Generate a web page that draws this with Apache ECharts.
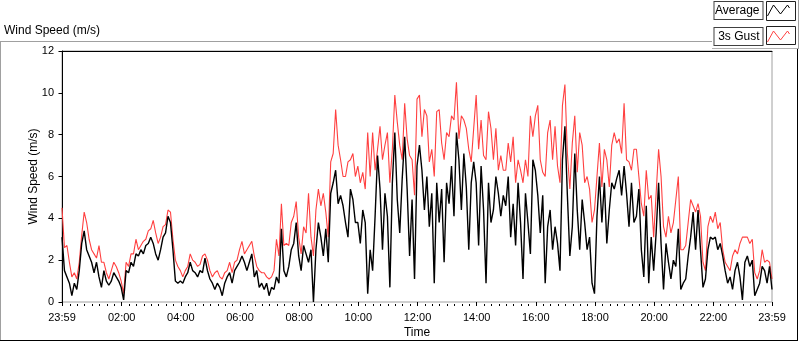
<!DOCTYPE html>
<html>
<head>
<meta charset="utf-8">
<script src="https://cdn.jsdelivr.net/npm/echarts@6.0.0/dist/echarts.min.js"></script>
<style>
  html, body { margin: 0; padding: 0; background: #fff; }
  #chart { width: 800px; height: 342px; }
</style>
</head>
<body>
<div id="chart"></div>
<script>
// Wind speed over one day, sampled every 5 minutes from 23:59 to 23:59
const startMinute = -1;   // 23:59 of the previous day
const sampleStep = 5;     // minutes between samples

// "Average" wind speed (m/s), one row per hour
const avgSpeed = [
    3.1, 1.5, 1.2, 0.9, 0.3, 0.9, 0.6, 1.5, 2.8, 3.4, 2.5, 2.2,
    1.9, 1.4, 1.9, 1.2, 0.7, 1.5, 1.0, 0.8, 1.0, 1.4, 1.2, 1.0,
    0.7, 0.1, 1.5, 1.4, 1.9, 1.7, 2.3, 2.2, 2.5, 2.3, 2.7, 2.8,
    3.1, 2.8, 2.3, 2.0, 2.5, 3.1, 3.3, 4.1, 3.8, 2.5, 1.0, 0.9,
    1.0, 0.9, 1.2, 1.4, 1.9, 1.5, 1.4, 1.2, 1.5, 1.4, 2.1, 1.5,
    1.1, 0.9, 0.6, 0.9, 0.7, 0.3, 0.9, 1.2, 1.4, 0.9, 1.5, 1.7,
    1.9, 2.2, 1.9, 1.5, 1.9, 2.3, 1.2, 1.5, 0.7, 0.9, 0.6, 0.9,
    0.3, 0.7, 0.6, 1.2, 0.9, 3.5, 1.5, 1.2, 1.7, 2.5, 2.8, 3.8,
    2.2, 1.5, 2.7, 2.3, 1.9, 2.5, 0.0, 2.5, 3.8, 3.1, 2.2, 3.5,
    1.9, 5.2, 5.7, 6.3, 4.7, 5.1, 4.6, 3.8, 3.1, 5.4, 4.9, 3.8,
    3.8, 2.8, 4.4, 3.8, 0.4, 2.5, 1.5, 4.1, 7.0, 5.4, 2.5, 5.2,
    4.1, 0.7, 5.7, 8.1, 4.9, 3.3, 5.9, 7.9, 5.4, 2.2, 4.9, 1.1,
    6.5, 7.5, 6.3, 4.4, 6.0, 3.6, 5.2, 0.9, 5.7, 3.8, 5.4, 1.9,
    5.7, 4.7, 6.5, 4.1, 8.1, 6.8, 4.4, 7.1, 5.5, 2.5, 5.7, 6.7,
    5.7, 2.7, 6.5, 4.4, 0.9, 5.7, 3.8, 4.4, 6.0, 5.2, 4.1, 5.1,
    4.6, 6.0, 3.1, 4.7, 2.7, 5.7, 3.8, 1.1, 5.2, 3.8, 2.3, 6.8,
    6.3, 5.1, 3.3, 5.1, 0.9, 3.6, 4.4, 2.5, 3.6, 2.8, 1.5, 6.8,
    8.4, 5.1, 2.2, 3.6, 7.1, 4.4, 2.5, 4.9, 3.8, 2.5, 3.1, 0.9,
    0.4, 4.1, 6.0, 3.8, 5.7, 2.8, 4.4, 5.7, 5.4, 5.9, 6.3, 5.1,
    6.5, 5.2, 3.6, 5.7, 3.8, 4.1, 5.4, 2.5, 1.2, 4.6, 0.9, 3.1,
    1.5, 3.3, 5.7, 2.8, 0.6, 2.8, 1.9, 1.1, 2.0, 1.7, 3.5, 0.6,
    0.9, 1.1, 2.2, 3.1, 4.3, 2.5, 4.4, 2.5, 0.7, 1.1, 2.5, 3.1,
    3.0, 3.1, 2.5, 2.8, 2.2, 1.5, 0.9, 1.2, 0.6, 1.5, 1.9, 1.2,
    0.1, 1.9, 2.2, 1.7, 2.0, 0.3, 0.6, 0.9, 1.7, 1.5, 0.9, 1.7,
    0.6
];

// "3s Gust" wind speed (m/s)
const gustSpeed = [
    4.5, 2.6, 2.7, 1.9, 1.2, 1.4, 1.1, 1.9, 3.2, 4.3, 3.8, 3.0,
    2.5, 2.3, 2.1, 2.7, 1.9, 1.9, 1.4, 1.1, 1.5, 1.9, 1.7, 1.4,
    1.0, 0.4, 1.9, 1.7, 2.3, 2.3, 3.0, 2.5, 2.7, 2.9, 3.0, 3.4,
    3.5, 3.9, 3.3, 2.8, 3.1, 3.6, 3.7, 4.4, 4.3, 3.0, 2.0, 1.7,
    1.5, 1.2, 1.5, 1.7, 2.3, 2.0, 1.9, 1.7, 1.8, 2.2, 2.3, 2.0,
    1.5, 1.2, 1.4, 1.5, 1.2, 1.1, 1.4, 1.5, 1.9, 1.4, 1.9, 2.0,
    2.5, 2.9, 2.3, 2.5, 2.7, 2.9, 2.2, 1.7, 1.5, 1.4, 1.4, 1.2,
    1.1, 1.2, 1.5, 3.0, 2.2, 4.7, 2.7, 2.8, 2.7, 3.8, 4.1, 4.8,
    3.1, 2.3, 3.6, 3.3, 5.2, 3.1, 2.2, 4.4, 5.4, 4.6, 5.2, 4.3,
    3.1, 6.7, 7.1, 9.2, 7.5, 6.8, 6.0, 6.0, 6.7, 6.8, 7.1, 6.0,
    6.5, 5.7, 6.2, 5.4, 8.1, 6.0, 8.1, 6.3, 7.3, 8.4, 6.8, 7.5,
    8.1, 5.7, 7.3, 9.9, 8.6, 7.5, 6.8, 9.5, 7.8, 7.0, 6.8, 5.1,
    9.7, 9.9, 7.9, 9.2, 8.9, 6.7, 7.3, 6.0, 9.1, 9.2, 7.6, 6.8,
    8.1, 7.9, 8.9, 8.7, 10.5, 7.8, 8.9, 8.7, 8.3, 7.3, 6.7, 8.3,
    9.9, 7.3, 8.7, 7.0, 6.8, 9.1, 8.3, 6.8, 8.3, 6.3, 7.0, 6.3,
    6.3, 7.6, 6.7, 7.9, 5.7, 6.8, 6.3, 5.7, 6.8, 6.0, 8.9, 7.9,
    8.9, 9.4, 6.8, 6.2, 6.0, 8.1, 8.7, 6.8, 8.4, 6.5, 5.7, 9.4,
    10.4, 7.1, 5.4, 7.6, 8.9, 6.2, 8.1, 7.5, 5.7, 6.0, 5.4, 3.8,
    4.4, 6.0, 7.6, 5.5, 7.3, 6.8, 5.5, 7.5, 8.1, 7.6, 7.8, 7.1,
    9.5, 6.8, 6.7, 6.3, 7.3, 7.3, 6.0, 4.7, 4.1, 6.3, 4.9, 5.1,
    3.1, 5.2, 7.3, 6.0, 3.6, 3.1, 4.1, 3.3, 3.8, 4.9, 6.0, 2.5,
    2.5, 2.7, 3.8, 4.9, 4.6, 4.3, 4.7, 4.1, 1.9, 1.5, 3.6, 4.1,
    3.8, 4.3, 3.5, 3.8, 2.5, 1.9, 1.7, 1.5, 2.2, 2.5, 2.3, 2.8,
    3.1, 3.1, 3.1, 2.8, 3.0, 1.4, 1.1, 1.5, 2.5, 1.9, 2.0, 1.9,
    1.1
];

// x axis tick labels (minutes since midnight)
const labelMinutes = [-1, 120, 240, 360, 480, 600, 720, 840, 960, 1080, 1200, 1320, 1439];
const timeLabels = ['23:59', '02:00', '04:00', '06:00', '08:00', '10:00', '12:00',
    '14:00', '16:00', '18:00', '20:00', '22:00', '23:59'];

const FONT = 'Liberation Sans, Arial, sans-serif';

document.addEventListener('DOMContentLoaded', function() {
    const chart = echarts.init(document.getElementById('chart'), null, { renderer: 'canvas' });

    const toPoints = arr => arr.map((v, i) => [startMinute + i * sampleStep, v]);

    // minor ticks every 15 minutes, skipping the labelled ones
    const minorTicks = [];
    for (let m = 15; m < 1440; m += 15) {
        if (m % 120 !== 0) minorTicks.push(m);
    }

    const option = {
        animation: false,
        title: {
            text: 'Wind Speed (m/s)',
            left: 4,
            top: 25,
            padding: 0,
            textStyle: { fontFamily: FONT, fontSize: 12, fontWeight: 'normal', color: '#000' }
        },
        legend: {
            data: [
                { name: 'Average', itemStyle: { color: 'none', borderColor: '#000', borderWidth: 1 } },
                { name: '3s Gust', itemStyle: { color: 'none', borderColor: '#ff4040', borderWidth: 1 } }
            ],
            orient: 'vertical',
            right: 8,
            top: 1,
            padding: 0,
            align: 'right',
            itemGap: 7,
            itemWidth: 22,
            itemHeight: 12,
            icon: 'path://M0,12L6,1L13,10L20,1L22,4',
            textStyle: {
                fontFamily: FONT,
                fontSize: 12,
                color: '#000',
                width: 42,
                borderColor: '#404040',
                borderWidth: 1,
                padding: [3, 3, 2, 3],
                backgroundColor: '#fff'
            }
        },
        graphic: [
            // outer sunken panel
            { type: 'line', shape: { x1: 0, y1: 41.5, x2: 712, y2: 41.5 }, style: { stroke: '#a0a0a0', lineWidth: 1 } },
            { type: 'line', shape: { x1: 0.5, y1: 41.5, x2: 0.5, y2: 341 }, style: { stroke: '#a0a0a0', lineWidth: 1 } },
            { type: 'line', shape: { x1: 0, y1: 340.5, x2: 798, y2: 340.5 }, style: { stroke: '#000', lineWidth: 1 } },
            { type: 'line', shape: { x1: 797.5, y1: 49, x2: 797.5, y2: 341 }, style: { stroke: '#000', lineWidth: 1 } },
            // legend panel edges
            { type: 'line', shape: { x1: 712, y1: 48.5, x2: 799, y2: 48.5 }, style: { stroke: '#b0b0b0', lineWidth: 1 } },
            { type: 'line', shape: { x1: 798.5, y1: 0, x2: 798.5, y2: 49 }, style: { stroke: '#a0a0a0', lineWidth: 1 } },
            // swatch boxes
            { type: 'rect', shape: { x: 766.5, y: 1.5, width: 29, height: 19 }, style: { fill: 'none', stroke: '#202020', lineWidth: 1 } },
            { type: 'rect', shape: { x: 766.5, y: 26.5, width: 29, height: 18 }, style: { fill: 'none', stroke: '#202020', lineWidth: 1 } }
        ],
        grid: {
            left: 62,
            right: 28,
            top: 51,
            bottom: 40,
            outerBoundsMode: 'none',
            show: true,
            borderColor: '#a0a0a0',
            borderWidth: 1
        },
        xAxis: [
            {
                type: 'value',
                position: 'bottom',
                min: -1,
                max: 1439,
                offset: 2,
                name: 'Time',
                nameLocation: 'middle',
                nameGap: 23,
                nameMoveOverlap: false,
                nameTextStyle: { fontFamily: FONT, fontSize: 12, color: '#000' },
                axisLine: { show: false },
                axisTick: { show: true, customValues: labelMinutes, length: 4, lineStyle: { color: '#000' } },
                axisLabel: {
                    customValues: labelMinutes,
                    margin: 8,
                    fontFamily: FONT,
                    fontSize: 11,
                    color: '#000',
                    formatter: function(value) {
                        const idx = labelMinutes.indexOf(value);
                        return idx >= 0 ? timeLabels[idx] : '';
                    }
                },
                splitLine: { show: false }
            },
            {
                type: 'value',
                position: 'bottom',
                min: -1,
                max: 1439,
                offset: 2,
                axisLine: { show: false },
                axisTick: { show: true, customValues: minorTicks, length: 2, lineStyle: { color: '#000' } },
                axisLabel: { show: false },
                splitLine: { show: false }
            },
            {
                type: 'value',
                position: 'top',
                min: -1,
                max: 1439,
                axisLine: { show: true, lineStyle: { color: '#000', width: 1 } },
                axisTick: { show: false },
                axisLabel: { show: false },
                splitLine: { show: false }
            }
        ],
        yAxis: {
            type: 'value',
            min: 0,
            max: 12,
            interval: 2,
            name: 'Wind Speed (m/s)',
            nameLocation: 'middle',
            nameGap: 22,
            nameMoveOverlap: false,
            nameRotate: 90,
            nameTextStyle: { fontFamily: FONT, fontSize: 12, color: '#000' },
            axisLine: { show: true, lineStyle: { color: '#000', width: 1 } },
            axisTick: { show: true, length: 4, lineStyle: { color: '#000' } },
            axisLabel: { margin: 8, fontFamily: FONT, fontSize: 11, color: '#000' },
            splitLine: { show: false }
        },
        series: [
            {
                name: '3s Gust',
                type: 'line',
                data: toPoints(gustSpeed),
                symbol: 'none',
                lineStyle: { color: '#ff4040', width: 1.1 },
                itemStyle: { color: '#ff4040' }
            },
            {
                name: 'Average',
                type: 'line',
                data: toPoints(avgSpeed),
                symbol: 'none',
                lineStyle: { color: '#000', width: 1.4 },
                itemStyle: { color: '#000' }
            }
        ]
    };

    chart.setOption(option);
});
</script>
</body>
</html>
